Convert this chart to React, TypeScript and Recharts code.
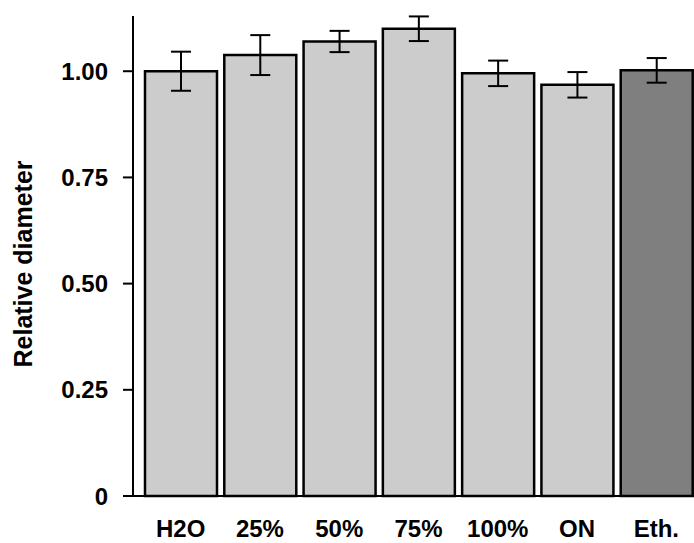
import { BarChart, Bar, XAxis, YAxis, ErrorBar, Cell } from 'recharts';

const categories = ['H2O', '25%', '50%', '75%', '100%', 'ON', 'Eth.'];
const diameters = [1.0, 1.038, 1.07, 1.1, 0.995, 0.968, 1.002];
const errors = [0.046, 0.047, 0.025, 0.029, 0.03, 0.03, 0.029];
const yTicks = [0, 0.25, 0.5, 0.75, 1.0];

const FONT = '"Liberation Sans", Arial, sans-serif';

const chartData = categories.map((name, i) => ({
  name,
  value: diameters[i],
  err: errors[i],
}));

const formatTick = (v: number) => (v === 0 ? '0' : v.toFixed(2));

const YLabel = () => (
  <text
    x={23}
    y={264}
    transform="rotate(-90, 23, 264)"
    textAnchor="middle"
    dominantBaseline="central"
    fontFamily={FONT}
    fontWeight="bold"
    fontSize={25}
    fill="#000"
  >
    Relative diameter
  </text>
);

export default function App() {
  return (
    <div style={{ position: 'absolute', left: 0, top: 0, width: 694, height: 543, overflow: 'hidden', background: '#fff' }}>
      <BarChart
        width={700}
        height={543}
        data={chartData}
        margin={{ top: 16, right: 4, left: 0, bottom: 0 }}
      >
        <XAxis
          dataKey="name"
          height={47}
          padding={{ left: 8, right: 0 }}
          tickLine={false}
          tickSize={0}
          tickMargin={24}
          axisLine={{ stroke: '#000', strokeWidth: 2 }}
          tick={{ fontSize: 24, fontFamily: FONT, fontWeight: 'bold', fill: '#000' }}
          interval={0}
        />
        <YAxis
          width={133}
          domain={[0, 1.13]}
          ticks={yTicks}
          tickFormatter={formatTick}
          tickSize={10}
          tickMargin={15}
          axisLine={{ stroke: '#000', strokeWidth: 2 }}
          tickLine={{ stroke: '#000', strokeWidth: 2 }}
          tick={{ fontSize: 24, fontFamily: FONT, fontWeight: 'bold', fill: '#000' }}
          label={<YLabel />}
        />
        <Bar dataKey="value" barSize={72} stroke="#000" strokeWidth={2.5} isAnimationActive={false}>
          {chartData.map((entry, index) => (
            <Cell key={`c-${index}`} fill={entry.name === 'Eth.' ? '#7f7f7f' : '#cccccc'} />
          ))}
          <ErrorBar dataKey="err" width={10} stroke="#000" strokeWidth={2} direction="y" />
        </Bar>
      </BarChart>
    </div>
  );
}
